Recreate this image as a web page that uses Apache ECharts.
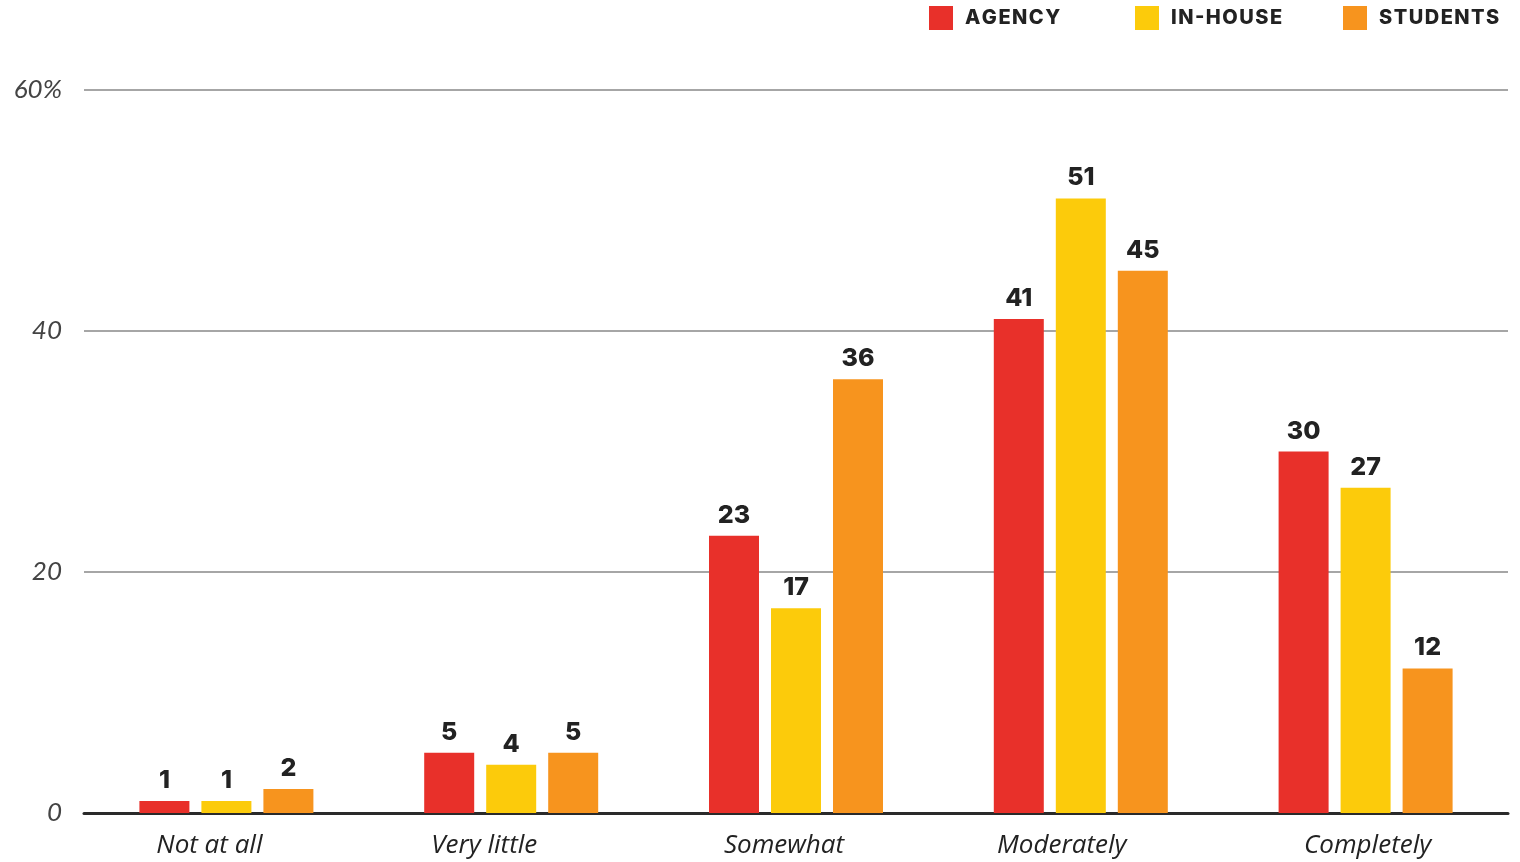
<!DOCTYPE html>
<html><head><meta charset="utf-8">
<script src="https://cdn.jsdelivr.net/npm/echarts@6/dist/echarts.min.js"></script>
<style>html,body{margin:0;padding:0;background:#fff}#c{width:1520px;height:862px}</style>
</head><body><div id="c"></div>
<script>
const categories = ['Not at all', 'Very little', 'Somewhat', 'Moderately', 'Completely'];
const agency   = [1, 5, 23, 41, 30];
const inHouse  = [1, 4, 17, 51, 27];
const students = [2, 5, 36, 45, 12];
const seriesNames = ['AGENCY', 'IN-HOUSE', 'STUDENTS'];
const yTickLabels = {0: '0', 20: '20', 40: '40', 60: '60%'};

const colors = ['#e8302a', '#fccb0b', '#f7941e'];
const labelShift = [-17, -27, -12, -19, 2];

const chart = echarts.init(document.getElementById('c'), null, {renderer: 'canvas'});
const barLabel = {
  show: true, position: 'top', distance: 8,
  fontFamily: 'Inter, "Open Sans", sans-serif', fontWeight: 800, fontSize: 25,
  color: '#222', backgroundColor: '#fff', padding: [2, 5, 0, 5]
};
const spaced = s => s.split('').join('\u200A');
const legendText = {fontFamily: 'Inter, "DejaVu Sans", sans-serif', fontWeight: 800, fontSize: 20, color: '#222', padding: [6, 0, 0, 7]};
const legendLefts = [929, 1135, 1343];
const option = {
  animation: false,
  color: colors,
  grid: {left: 84, right: 12, top: 90, bottom: 49, containLabel: false},
  legend: seriesNames.map((n, i) => ({
    data: [n], left: legendLefts[i], top: 6, padding: 0, itemWidth: 24, itemHeight: 24, itemGap: 12,
    icon: 'rect', textStyle: legendText, selectedMode: false, formatter: spaced
  })),
  xAxis: {
    type: 'category',
    data: categories.map((c, i) => ({value: c, textStyle: {padding: labelShift[i] < 0 ? [0, -2 * labelShift[i], 0, 0] : [0, 0, 0, 2 * labelShift[i]]}})),
    axisLine: {lineStyle: {color: '#2a2a2a', width: 3}},
    axisTick: {show: false},
    axisLabel: {fontFamily: '"Open Sans", sans-serif', fontStyle: 'italic', fontSize: 26, color: '#222', margin: 20}
  },
  yAxis: {
    type: 'value', min: 0, max: 60, interval: 20,
    axisLine: {show: false}, axisTick: {show: false},
    splitLine: {lineStyle: {color: '#888', width: 1.5}},
    axisLabel: {formatter: v => yTickLabels[v], fontFamily: 'Lato, "Open Sans", sans-serif', fontStyle: 'italic', fontWeight: 400, fontSize: 26, color: '#444', margin: 22, verticalAlign: 'middle', padding: [0, 0, 8, 0]}
  },
  series: [agency, inHouse, students].map((d, i) => ({
    type: 'bar', name: seriesNames[i], data: d, barWidth: 50, barGap: '24%',
    label: barLabel, itemStyle: {color: colors[i]}
  }))
};
chart.setOption(option);
</script></body></html>
